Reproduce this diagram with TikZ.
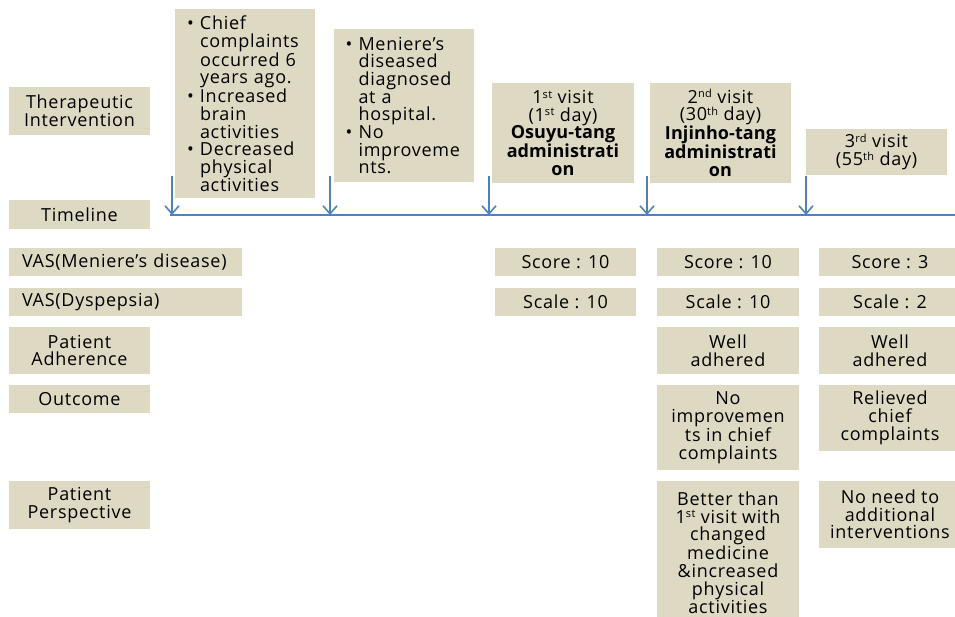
\documentclass[tikz,border=0pt]{standalone}
\usepackage{fontspec}
\setmainfont[LetterSpace=4]{Open Sans}
\usetikzlibrary{arrows.meta}
\definecolor{boxfill}{HTML}{DDD9C3}
\definecolor{tlblue}{HTML}{4F81BD}
\newcommand{\sups}[1]{\raisebox{0.55ex}{\fontsize{11}{11}\selectfont #1}}
\newcommand{\bl}{\makebox[13pt][l]{\textbullet}}
\newcommand{\ind}{\hspace*{13pt}}
\newcommand{\drug}[1]{{\bfseries\addfontfeature{LetterSpace=0.5}#1}}
\begin{document}
\begin{tikzpicture}[x=1pt,y=-1pt,
    box/.style={fill=boxfill, inner sep=0pt, align=center, font=\fontsize{18}{17.7}\selectfont},
    listbox/.style={box, align=left, inner xsep=12pt, text width=116pt},
    arr/.style={tlblue, line width=1.6pt, -{Straight Barb[length=8pt,width=14pt]}}]
    \useasboundingbox (0,0) rectangle (955,617);
    % row labels
    \node[box, minimum width=141pt, minimum height=48pt] (ther) at (79.5,111) {Therapeutic\\Intervention};
    \node[box, minimum width=141pt, minimum height=29pt] (timeline) at (79.5,214.5) {Timeline};
    \node[box, align=left, inner xsep=13pt, text width=207pt, minimum height=28pt] (vasmen) at (125.5,262) {VAS(Meniere's disease)};
    \node[box, align=left, inner xsep=13pt, text width=207pt, minimum height=28pt] (vasdys) at (125.5,302) {VAS(Dyspepsia)};
    \node[box, minimum width=141pt, minimum height=47pt] (adher) at (79.5,350.5) {Patient\\Adherence};
    \node[box, minimum width=141pt, minimum height=28pt] (outcome) at (79.5,399) {Outcome};
    \node[box, minimum width=141pt, minimum height=48pt] (persp) at (79.5,505) {Patient\\Perspective};
    % history
    \node[listbox, minimum height=189pt] (hist) at (245,103.5) {\bl Chief\\\ind complaints\\\ind occurred 6\\\ind years ago.\\
        \bl Increased\\\ind brain\\\ind activities\\
        \bl Decreased\\\ind physical\\\ind activities};
    \node[listbox, minimum height=153pt] (diag) at (403.5,105.5) {\bl Meniere's\\\ind diseased\\\ind diagnosed\\\ind at a\\\ind hospital.\\
        \bl No\\\ind improveme\\\ind nts.};
    % visits
    \node[box, minimum width=142pt, minimum height=100pt] (visit1) at (563,133) {1\sups{st} visit\\(1\sups{st} day)\\\drug{Osuyu-tang}\\\drug{administrati}\\\drug{on}};
    \node[box, minimum width=141pt, minimum height=100pt] (visit2) at (720.5,133) {2\sups{nd} visit\\(30\sups{th} day)\\\drug{Injinho-tang}\\\drug{administrati}\\\drug{on}};
    \node[box, minimum width=141pt, minimum height=46pt] (visit3) at (876.5,152) {3\sups{rd} visit\\(55\sups{th} day)};
    % timeline
    \coordinate (line0) at (170,215);
    \coordinate (line1) at (960,215);
    \draw[tlblue, line width=1.6pt] (line0) -- (line1);
    \foreach \x [count=\i] in {172,330,489,647,806} {
        \coordinate (drop\i) at (\x,176);
        \draw[arr] (drop\i) -- (drop\i |- line0);
    }
    % scores
    \node[box, minimum width=141pt, minimum height=28pt] (score1) at (565.5,262) {Score : 10};
    \node[box, minimum width=142pt, minimum height=28pt] (score2) at (728,262) {Score : 10};
    \node[box, minimum width=142pt, minimum height=28pt] (score3) at (890,262) {Score : 3};
    \node[box, minimum width=141pt, minimum height=28pt] (scale1) at (565.5,302) {Scale : 10};
    \node[box, minimum width=142pt, minimum height=28pt] (scale2) at (728,302) {Scale : 10};
    \node[box, minimum width=142pt, minimum height=28pt] (scale3) at (890,302) {Scale : 2};
    % adherence, outcome, perspective
    \node[box, minimum width=142pt, minimum height=47pt] (adher2) at (728,350.5) {Well\\adhered};
    \node[box, minimum width=142pt, minimum height=47pt] (adher3) at (890,350.5) {Well\\adhered};
    \node[box, minimum width=142pt, minimum height=85pt] (out2) at (728,427.5) {No\\improvemen\\ts in chief\\complaints};
    \node[box, minimum width=142pt, minimum height=66pt] (out3) at (890,418) {Relieved\\chief\\complaints};
    \node[box, minimum width=142pt, minimum height=143pt] (persp2) at (728,552.5) {Better than\\1\sups{st} visit with\\changed\\medicine\\\&increased\\physical\\activities};
    \node[box, minimum width=142pt, minimum height=67pt] (persp3) at (890,514.5) {No need to\\additional\\interventions};
\end{tikzpicture}
\end{document}
